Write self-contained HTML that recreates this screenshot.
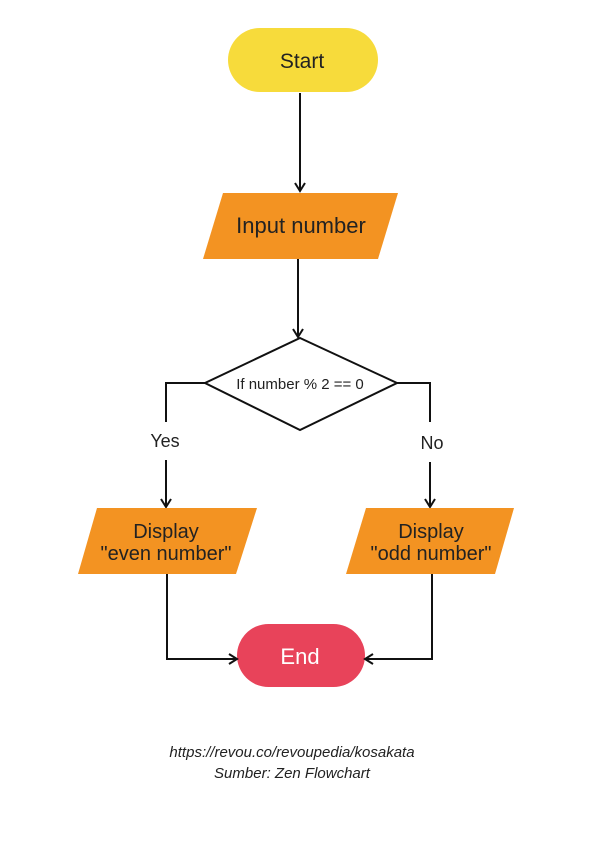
<!DOCTYPE html>
<html><head><meta charset="utf-8"><style>
html,body{margin:0;padding:0;background:#fff;}
svg{display:block}
text{font-family:"Liberation Sans",sans-serif;}
</style></head><body>
<svg width="600" height="848" viewBox="0 0 600 848" xmlns="http://www.w3.org/2000/svg">
<defs><marker id="a" markerWidth="12" markerHeight="12" refX="9" refY="6" orient="auto" markerUnits="userSpaceOnUse"><path d="M1,1 L9,6 L1,11" fill="none" stroke="#111" stroke-width="2"/></marker></defs>
<rect x="228" y="28" width="150" height="64" rx="32" fill="#F7DB3B"/>
<text x="302" y="68" font-size="21" text-anchor="middle" fill="#222">Start</text>
<line x1="300" y1="93" x2="300" y2="191" stroke="#111" stroke-width="2" marker-end="url(#a)"/>
<polygon points="223,193 398,193 378,259 203,259" fill="#F39322"/>
<text x="301" y="233" font-size="22" text-anchor="middle" fill="#222">Input number</text>
<line x1="298" y1="259" x2="298" y2="337" stroke="#111" stroke-width="2" marker-end="url(#a)"/>
<polygon points="300,338 397,383 300,430 205,383" fill="#fff" stroke="#111" stroke-width="2"/>
<text x="300" y="389" font-size="15" text-anchor="middle" fill="#222">If number % 2 == 0</text>
<polyline points="205,383 166,383 166,422" fill="none" stroke="#111" stroke-width="2"/>
<text x="165" y="447" font-size="18" text-anchor="middle" fill="#222">Yes</text>
<line x1="166" y1="460" x2="166" y2="507" stroke="#111" stroke-width="2" marker-end="url(#a)"/>
<polyline points="397,383 430,383 430,422" fill="none" stroke="#111" stroke-width="2"/>
<text x="432" y="449" font-size="18" text-anchor="middle" fill="#222">No</text>
<line x1="430" y1="462" x2="430" y2="507" stroke="#111" stroke-width="2" marker-end="url(#a)"/>
<polygon points="97,508 257,508 236,574 78,574" fill="#F39322"/>
<text x="166" y="538" font-size="20" text-anchor="middle" fill="#222">Display</text>
<text x="166" y="560" font-size="20" text-anchor="middle" fill="#222">"even number"</text>
<polygon points="366,508 514,508 495,574 346,574" fill="#F39322"/>
<text x="431" y="538" font-size="20" text-anchor="middle" fill="#222">Display</text>
<text x="431" y="560" font-size="20" text-anchor="middle" fill="#222">"odd number"</text>
<rect x="237" y="624" width="128" height="63" rx="31.5" fill="#E8435A"/>
<text x="300" y="664" font-size="22" text-anchor="middle" fill="#fff">End</text>
<polyline points="167,574 167,659 237,659" fill="none" stroke="#111" stroke-width="2" marker-end="url(#a)"/>
<polyline points="432,574 432,659 365,659" fill="none" stroke="#111" stroke-width="2" marker-end="url(#a)"/>
<text x="292" y="757" font-size="15" font-style="italic" text-anchor="middle" fill="#222">https://revou.co/revoupedia/kosakata</text>
<text x="292" y="778" font-size="15" font-style="italic" text-anchor="middle" fill="#222">Sumber: Zen Flowchart</text>
</svg>
</body></html>
